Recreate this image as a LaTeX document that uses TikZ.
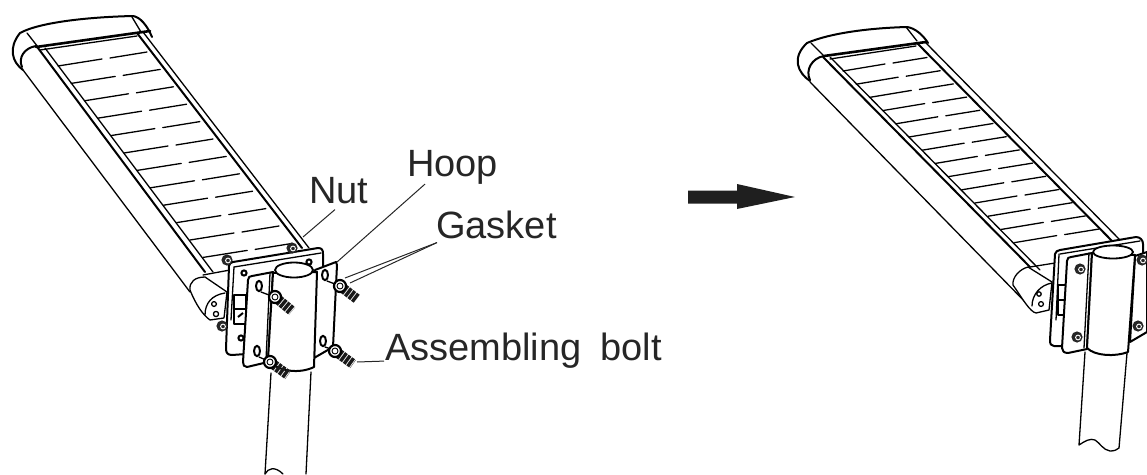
\documentclass[tikz,border=0pt]{standalone}
\usepackage{fontspec}
\setmainfont{Liberation Sans}
\tikzset{
 lbl/.style={inner sep=0pt,anchor=base west,font=\fontsize{38}{38}\selectfont,text=black!85},
 leader/.style={line width=1pt,black!85},
 ln/.style={line width=1.3pt,line cap=round,line join=round},
 thick ln/.style={line width=2pt,line cap=round,line join=round},
 wh/.style={fill=white,draw=black,line width=1.3pt,line join=round},
}
\newcommand{\mynut}[2]{\fill[black!85] (#1,#2) circle (5.6);\draw[white,line width=.9pt] (#1+1,#2+.5) circle (2.4);}
\newcommand{\mybolt}[4]{% x1 y1 x2 y2
 \draw[black!90,line width=10pt,dash pattern=on 3.4pt off 1pt] (#1,#2) -- (#3,#4);
 \draw[wh,line width=2.2pt] (#1,#2) circle (6);
 \draw[line width=.9pt] (#1,#2) circle (3);
}
\begin{document}
\begin{tikzpicture}[x=1pt,y=-1pt]
\useasboundingbox (0,0) rectangle (1147,474);
%------------- left lamp
\draw[thick ln] (23,70) .. controls (12,62) and (8,48) .. (20,33) .. controls (40,22) and (90,17) .. (133,16) .. controls (140,17) and (147,25) .. (152,37);
\draw[thick ln] (22,67) .. controls (18,58) and (24,48) .. (36,46);
\draw[line width=2.6pt,line cap=round] (36,47) -- (150,31);
\draw[ln] (40,50) -- (137,36);
\draw[ln] (27,33) -- (38,47);
\draw[ln] (132,17) -- (141,32);
\draw[ln] (23,70) -- (190,292);
\draw[thick ln] (38,48) -- (205,272);
\draw[ln] (45,48) -- (213,272);
\draw[thick ln] (137,33) -- (302,248);
\draw[ln] (143,32) -- (309,248);
\foreach \i in {0,...,11}{
 \draw[ln] ({58+13.2*\i},{66+17.4*\i}) -- ++(44,-7);
 \draw[ln] ({110+13.2*\i},{58+17.4*\i}) -- ++(37,-6);
}
% left bracket
\draw[ln] (203,275) -- (230,270);
\draw[wh] (190,290) .. controls (189,282) and (195,277) .. (205,277) -- (227,292) -- (224,318) -- (210,320) .. controls (203,315) and (196,305) .. (190,290) -- cycle;
\draw[ln] (205,315) .. controls (205,303) and (212,295) .. (225,293);
\draw[ln] (214,304) circle (2.4) (216,314) circle (2.6);
% back plate
\draw[wh,thick ln] (233,262) -- (318,248) .. controls (322,248) and (323,250) .. (323,254) -- (323,272) -- (246,354) -- (232,355) .. controls (228,355) and (226,353) .. (226,349) -- (229,266) .. controls (229,264) and (231,262) .. (233,262) -- cycle;
\draw[ln] (234,267) -- (321,253);
\draw[ln] (234,267) -- (231,320);
\draw[wh] (234,295) rectangle (246,324);
\draw[ln] (234,309) -- (246,309);
\draw[line width=2pt] (238,317) -- (243,313);
% front hoop
\draw[wh,thick ln] (252,276) -- (273,272) -- (268,362) -- (247,367) .. controls (244,367) and (243,365) .. (243,362) -- (248,280) .. controls (248,277) and (250,276) .. (252,276) -- cycle;
\draw[wh,thick ln] (315,270) -- (336,262) -- (337,265) -- (333,347) -- (314,358) -- cycle;
\draw[wh,thick ln] (273,273) -- (268,360) .. controls (278,372) and (300,374) .. (314,367) -- (317,272) -- cycle;
\draw[ln] (270,273) -- (266,360);
\draw[wh,line width=1.8pt] (294,270) ellipse [x radius=19,y radius=7.5];
\draw[ln] (271,373) -- (265,474);
\draw[ln] (311,372) -- (306,474);
\draw[ln] (265,474) .. controls (268,468) and (275,466) .. (283,474);
\mynut{227}{260}\mynut{292}{248}\mynut{222}{326}
\foreach \a/\b in {244/273,241/338,309/262}{\draw[line width=2pt] (\a,\b) circle (2.6);}
\foreach \a/\b in {259/286,257/351,325/275,323/341}{\draw[thick ln,fill=white] (\a,\b) ellipse [x radius=3,y radius=5.2];}
\draw[ln] (261,292) -- (269,295) (259,357) -- (266,360) (327,281) -- (335,284) (325,347) -- (331,349);
\mybolt{275}{297}{292}{311}
\mybolt{340}{286}{357}{299}
\mybolt{270}{362}{288}{375}
\mybolt{335}{351}{353}{364}
%------------- labels left
\node[lbl] (nut) at (309,203) {Nut};
\node[lbl] (hoop) at (407,176) {Hoop};
\node[lbl] (gasket) at (436,238) {Gasket};
\node[lbl] (bolt) at (385,360) {Assembling\hspace{19pt}bolt};
\coordinate (nutend) at (303,237);
\coordinate (hoopend) at (337,262);
\coordinate (gaskA) at (345,278);
\coordinate (gaskB) at (350,283);
\coordinate (boltend) at (357,362);
\draw[leader] (nut.south west) ++(26,6) -- (nutend);
\draw[leader] (hoop.south west) ++(18,0) -- (hoopend);
\draw[leader] (gasket.south west) ++(1,4) -- (gaskA);
\draw[leader] (gasket.south west) ++(1,4) -- (gaskB);
\draw[leader] (bolt.south west) ++(-1,-7) -- (boltend);
%------------- arrow
\coordinate (arS) at (688,197);
\coordinate (arE) at (795,197);
\fill[black!88] (arS) ++(0,-6.5) -- (737,190.5) -- (737,184) -- (arE) -- (737,209) -- (737,203.5) -- (688,203.5) -- cycle;
%------------- right lamp
\draw[thick ln] (810,81) .. controls (798,73) and (791,58) .. (807,43) .. controls (830,33) and (870,28) .. (907,27) .. controls (915,28) and (923,35) .. (928,43);
\draw[thick ln] (810,80) .. controls (805,70) and (812,58) .. (824,56);
\draw[line width=2.6pt,line cap=round] (824,56) -- (926,42);
\draw[ln] (830,59) -- (916,46);
\draw[ln] (811,43) -- (824,56);
\draw[ln] (906,27) -- (917,41);
\draw[ln] (810,82) -- (1033,310);
\draw[thick ln] (823,57) -- (1030,267);
\draw[ln] (830,57) -- (1040,270);
\draw[thick ln] (917,43) -- (1113,242);
\draw[ln] (925,42) -- (1120,240);
\foreach \i in {0,...,13}{
 \draw[ln] ({843+13.2*\i},{71+13.2*\i}) -- ++(42,-7);
 \draw[ln] ({893+13.2*\i},{63+13.2*\i}) -- ++(34,-5.5);
}
\draw[ln] (1030,267) -- (1055,263);
\draw[wh] (1013,285) .. controls (1012,277) and (1020,269) .. (1028,267) -- (1052,282) -- (1049,310) -- (1036,313) .. controls (1030,312) and (1022,298) .. (1013,285) -- cycle;
\draw[ln] (1032,306) .. controls (1032,295) and (1040,285) .. (1052,283);
\draw[ln] (1039,294) circle (2.2) (1041,304) circle (2.4);
\draw[wh,thick ln] (1060,250) -- (1136,237) .. controls (1140,237) and (1143,240) .. (1143,244) -- (1143,260) -- (1064,346) -- (1054,346) .. controls (1051,346) and (1050,344) .. (1050,340) -- (1055,254) .. controls (1055,252) and (1058,250) .. (1060,250) -- cycle;
\draw[ln] (1060,254) -- (1140,241);
\draw[ln] (1059,254) -- (1056,320);
\draw[wh] (1058,285) rectangle (1066,315);
\draw[ln] (1058,300) -- (1066,300);
\draw[wh,thick ln] (1071,257) -- (1092,253) -- (1087,349) -- (1068,353) .. controls (1064,353) and (1062,351) .. (1062,348) -- (1067,261) .. controls (1067,258) and (1069,257) .. (1071,257) -- cycle;
\draw[wh,thick ln] (1135,256) -- (1147,252) -- (1147,332) -- (1130,342) -- cycle;
\draw[wh,thick ln] (1092,253) -- (1087,348) .. controls (1095,356) and (1115,357) .. (1128,352) -- (1135,255) -- cycle;
\draw[ln] (1089,253) -- (1084,348);
\draw[wh,line width=1.8pt] (1113,252) ellipse [x radius=20,y radius=6.5];
\draw[ln] (1085,352) -- (1079,445) .. controls (1085,441) and (1090,438) .. (1095,440) .. controls (1100,443) and (1103,450) .. (1110,451) .. controls (1114,451) and (1117,450) .. (1119,448) -- (1127,353);
\mynut{1080}{269}\mynut{1077}{337}\mynut{1142}{260}\mynut{1138}{326}
\end{tikzpicture}
\end{document}
